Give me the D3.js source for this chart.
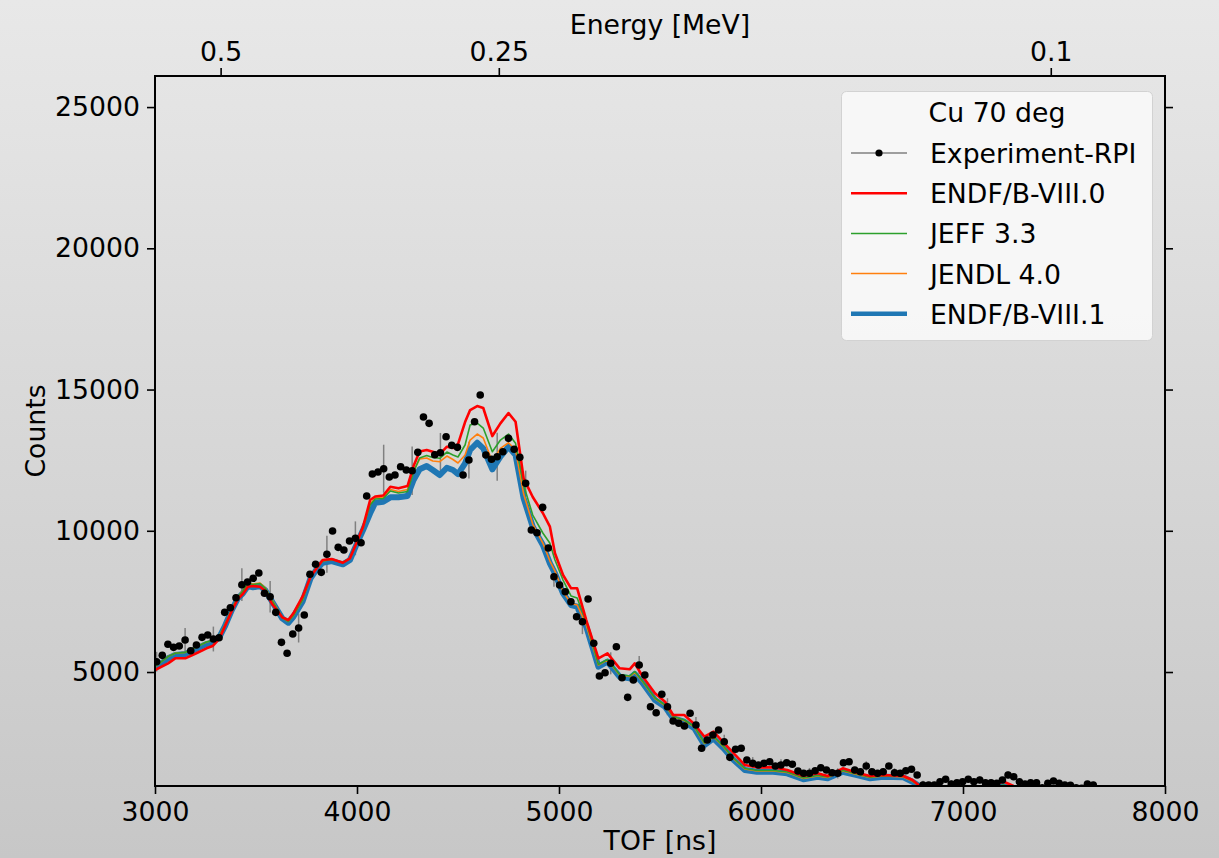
<!DOCTYPE html>
<html>
<head>
<meta charset="utf-8">
<script src="https://cdn.jsdelivr.net/npm/d3@7"></script>
<style>
  body { margin: 0; }
  svg { display: block; font-family: "DejaVu Sans", sans-serif; }
</style>
</head>
<body>
<svg width="1219" height="858"></svg>
<script>
// experiment, TOF channel centres [ns] and counts
var expTof = [3008,3036,3064,3092,3120,3149,3177,3205,3233,3261,3289,3317,3345,3373,3401,3430,3458,3486,3514,3542,
  3570,3598,3626,3654,3682,3711,3739,3767,3795,3823,3851,3879,3907,3935,3963,3992,4020,4048,4076,4104,
  4132,4160,4188,4216,4244,4273,4301,4329,4357,4385,4413,4441,4469,4497,4525,4554,4582,4610,4638,4666,
  4694,4722,4750,4778,4806,4835,4863,4891,4919,4947,4975,5003,5031,5059,5087,5116,5144,5172,5200,5228,
  5256,5284,5312,5340,5368,5397,5425,5453,5481,5509,5537,5565,5593,5621,5649,5678,5706,5734,5762,5790,
  5818,5846,5874,5902,5930,5959,5987,6015,6043,6071,6099,6127,6155,6183,6211,6240,6268,6296,6324,6352,
  6380,6408,6436,6464,6492,6521,6549,6577,6605,6633,6661,6689,6717,6745,6773,6802,6830,6858,6886,6914,
  6942,6970,6998,7026,7054,7083,7111,7139,7167,7195,7223,7251,7279,7307,7335,7364,7392,7420,7448,7476,
  7504,7532,7560,7588,7616,7645,7673,7701,7729,7757];
var expCounts = [5365,5591,5981,5874,5920,6133,5754,5956,6228,6310,6168,6214,7113,7276,7630,8090,8186,8317,8505,7786,
  7666,7113,6051,5662,6345,6558,7018,8459,8813,8529,9167,9991,9414,9319,9637,9733,9577,11230,12009,12080,
  12197,11903,11974,12268,12151,12126,12777,14027,13804,12692,12763,13330,13025,12954,11974,12505,13861,14806,12682,12530,
  12622,12799,13273,12884,12600,11680,10027,9931,10830,9390,8374,8080,7843,7489,6958,6781,7584,6016,4858,4975,
  5308,5896,4798,4104,4717,5248,4894,3772,3559,4211,3772,3265,3184,3088,3538,3124,2299,2593,2770,2947,
  2533,1980,2264,2299,1885,1768,1708,1768,1825,1672,1708,1789,1733,1495,1414,1414,1506,1612,1531,1435,
  1414,1789,1825,1531,1471,1672,1471,1414,1471,1672,1435,1414,1506,1556,1354,1000,1000,1000,1117,1202,
  1035,1081,1117,1202,1117,1177,1081,1081,1060,1177,1354,1294,1117,1035,1081,1081,900,1060,1142,1060,
  1000,990,900,880,1035,1000,850,870,820,800];
// error bars are drawn on every 5th channel
var errEvery = 5;
var expErr = [350,425,440,580,555,513,655,600,850,855,700,650,850,450,354,440,390,320,300,280,
  250,220,200,190,180,170,160,150,140,130,130,120,110,110];

// evaluated-data calculations
var tofModel = [3000,3065,3100,3150,3210,3255,3285,3320,3345,3380,3410,3435,3460,3485,3520,3545,3580,3630,3660,3685,
  3730,3770,3800,3830,3875,3930,3965,4000,4030,4065,4090,4130,4165,4205,4250,4280,4310,4345,4375,4410,
  4445,4475,4500,4535,4560,4595,4625,4670,4710,4750,4785,4825,4870,4920,4955,4980,5020,5060,5090,5135,
  5195,5240,5300,5350,5375,5415,5475,5525,5565,5620,5670,5720,5765,5815,5865,5920,5980,6060,6130,6210,
  6280,6330,6405,6475,6540,6605,6705,6750,6790,6860,6985,7135,7200,7250,7330,7680,8000];
var endf80 = [5071,5308,5485,5485,5683,5839,5920,6193,6604,7159,7584,7761,8020,8044,8020,7878,7407,6936,6841,7078,
  7666,8374,8671,8965,9000,8869,9025,9613,10144,11089,11213,11248,11560,11503,11584,12292,12806,12859,12799,12717,
  12976,12930,13071,13850,14275,14416,14346,13354,13804,14169,13861,11857,11195,10629,10144,9202,8434,7963,7963,6841,
  5485,5662,5131,5096,5308,4834,4246,3949,3478,3478,3159,2710,2887,2497,2122,1708,1626,1626,1531,1318,
  1414,1318,1591,1435,1318,1354,1318,1177,940,752,823,964,1124,964,646,292,115];
var jeff33 = [5195,5549,5662,5697,5903,6062,6115,6310,6646,7230,7655,7867,8133,8098,8133,7974,7531,6929,6788,7000,
  7549,8363,8682,8929,8983,8876,9018,9602,10098,10912,11124,11142,11407,11337,11390,12080,12576,12664,12593,12565,
  12788,12682,12611,13036,13744,13815,13638,12799,13213,13425,13096,11620,10558,9921,9556,8965,8257,7690,7620,6770,
  5266,5443,4911,4858,5018,4664,4080,3832,3425,3301,3071,2487,2717,2363,1938,1584,1513,1513,1460,1248,
  1336,1283,1513,1389,1272,1329,1301,1141,947,681,681,858,1000,858,504,150,10];
var jendl40 = [5195,5549,5662,5697,5903,6062,6115,6310,6646,7230,7655,7885,8151,8115,8151,7991,7549,6929,6788,7000,
  7549,8363,8682,8929,8983,8876,9018,9602,10098,10947,11160,11177,11461,11390,11461,12115,12540,12576,12469,12445,
  12646,12523,12399,12682,13213,13425,13284,12445,12919,13117,12859,11301,10239,9567,8929,8575,7850,7425,7372,6664,
  5248,5425,4894,4841,4982,4646,4062,3814,3407,3283,3053,2469,2699,2345,1920,1566,1495,1495,1442,1230,
  1318,1265,1495,1371,1265,1318,1283,1131,940,663,681,858,982,858,504,150,10];
var endf81 = [5142,5485,5602,5637,5839,5991,6051,6250,6604,7195,7609,7786,8044,7998,8044,7903,7489,6901,6745,6958,
  7489,8317,8636,8869,8929,8813,8965,9556,10027,10618,10993,11029,11184,11184,11230,11797,12176,12292,12151,11974,
  12232,12151,12009,12388,12859,13117,12919,12176,12622,12976,12682,11149,10144,9496,8848,8494,7786,7372,7312,6604,
  5188,5365,4834,4777,4929,4600,4009,3772,3361,3241,3007,2416,2653,2299,1885,1531,1471,1471,1414,1202,
  1294,1237,1471,1354,1237,1294,1272,1117,940,646,646,823,964,823,469,115,20];

var xTicks = [3000, 4000, 5000, 6000, 7000, 8000];
var yTicks = [5000, 10000, 15000, 20000, 25000];
var energyTicks = [0.5, 0.25, 0.1];
var energyLabels = ["0.5", "0.25", "0.1"];
var flightConst = 2351; // tof[ns] = flightConst / sqrt(E[MeV])

// thick ENDF/B-VIII.1 underneath, thin ones over it
var series = [
  {name: "ENDF/B-VIII.1", values: endf81, color: "#1f77b4", lw: 6},
  {name: "JENDL 4.0", values: jendl40, color: "#ff7f0e", lw: 1.6},
  {name: "JEFF 3.3", values: jeff33, color: "#2ca02c", lw: 1.6},
  {name: "ENDF/B-VIII.0", values: endf80, color: "#ff0000", lw: 2.6}
];

var svg = d3.select("svg"),
    width = +svg.attr("width"),
    height = +svg.attr("height"),
    margin = {top: 76, right: 54, bottom: 72, left: 155},
    w = width - margin.left - margin.right,
    h = height - margin.top - margin.bottom,
    fs = 26.7;

var grad = svg.append("defs").append("linearGradient")
    .attr("id", "bg").attr("x1", 0).attr("y1", 0).attr("x2", 0).attr("y2", 1);
grad.append("stop").attr("offset", "0%").attr("stop-color", "#e8e8e8");
grad.append("stop").attr("offset", "100%").attr("stop-color", "#c7c7c7");
svg.select("defs").append("clipPath").attr("id", "clip")
  .append("rect").attr("width", w).attr("height", h);

svg.append("rect").attr("width", width).attr("height", height).attr("fill", "url(#bg)");

var g = svg.append("g").attr("transform", "translate(" + margin.left + "," + margin.top + ")");

var x = d3.scaleLinear().domain([3000, 8000]).range([0, w]);
var y = d3.scaleLinear().domain([965, 26100]).range([h, 0]);

var plot = g.append("g").attr("clip-path", "url(#clip)");

// error bars
var errData = expErr.map(function(e, i) { return {t: expTof[i * errEvery], c: expCounts[i * errEvery], e: e}; });
plot.selectAll("line.err")
    .data(errData)
    .enter().append("line")
    .attr("class", "err")
    .attr("x1", function(d) { return x(d.t); })
    .attr("x2", function(d) { return x(d.t); })
    .attr("y1", function(d) { return y(d.c - d.e); })
    .attr("y2", function(d) { return y(d.c + d.e); })
    .attr("stroke", "#808080")
    .attr("stroke-width", 1.5);

var line = d3.line()
    .x(function(d, i) { return x(tofModel[i]); })
    .y(function(d) { return y(d); });

plot.selectAll("path.model")
    .data(series)
    .enter().append("path")
    .attr("class", "model")
    .attr("d", function(d) { return line(d.values); })
    .attr("fill", "none")
    .attr("stroke", function(d) { return d.color; })
    .attr("stroke-width", function(d) { return d.lw; })
    .attr("stroke-linejoin", "round");

plot.selectAll("circle")
    .data(expCounts)
    .enter().append("circle")
    .attr("cx", function(d, i) { return x(expTof[i]); })
    .attr("cy", function(d) { return y(d); })
    .attr("r", 3.8)
    .attr("fill", "#000");

// axes
function styleAxis(sel) {
  sel.select(".domain").remove();
  sel.selectAll(".tick line").attr("stroke", "#000").attr("stroke-width", 1.6);
  sel.selectAll(".tick text").attr("fill", "#000").style("font-size", fs + "px")
    .style("font-family", "'DejaVu Sans', sans-serif");
}

g.append("g").attr("transform", "translate(0," + h + ")")
  .call(d3.axisBottom(x).tickValues(xTicks).tickSize(8).tickPadding(8).tickFormat(d3.format("d")))
  .call(styleAxis);

g.append("g")
  .call(d3.axisLeft(y).tickValues(yTicks).tickSize(8).tickPadding(7).tickFormat(d3.format("d")))
  .call(styleAxis);

g.append("g").attr("transform", "translate(" + w + ",0)")
  .call(d3.axisRight(y).tickValues(yTicks).tickSize(8).tickFormat(""))
  .call(styleAxis);

g.append("g")
  .call(d3.axisTop(x)
    .tickValues(energyTicks.map(function(e) { return flightConst / Math.sqrt(e); }))
    .tickSize(8).tickPadding(7)
    .tickFormat(function(d, i) { return energyLabels[i]; }))
  .call(styleAxis);

g.append("rect").attr("width", w).attr("height", h)
  .attr("fill", "none").attr("stroke", "#000").attr("stroke-width", 2);

svg.append("text").attr("x", margin.left + w / 2).attr("y", 850)
  .attr("text-anchor", "middle").style("font-size", fs + "px").text("TOF [ns]");
svg.append("text").attr("x", margin.left + w / 2).attr("y", 34)
  .attr("text-anchor", "middle").style("font-size", fs + "px").text("Energy [MeV]");
svg.append("text").attr("transform", "translate(45," + (margin.top + h / 2) + ") rotate(-90)")
  .attr("text-anchor", "middle").style("font-size", fs + "px").text("Counts");

// legend
var legendItems = [
  {name: "Experiment-RPI", color: "#808080", lw: 1.5, dot: true},
  {name: "ENDF/B-VIII.0", color: "#ff0000", lw: 2.5},
  {name: "JEFF 3.3", color: "#2ca02c", lw: 1.5},
  {name: "JENDL 4.0", color: "#ff7f0e", lw: 1.5},
  {name: "ENDF/B-VIII.1", color: "#1f77b4", lw: 4.5}
];

var leg = svg.append("g").attr("transform", "translate(841,91)");
leg.append("rect").attr("x", 0.5).attr("y", 0.5).attr("width", 311).attr("height", 249)
  .attr("rx", 5).attr("fill", "#f9f9f9").attr("fill-opacity", 0.92)
  .attr("stroke", "#d2d2d2").attr("stroke-width", 1);
leg.append("text").attr("x", 156).attr("y", 31).attr("text-anchor", "middle")
  .style("font-size", fs + "px").text("Cu 70 deg");

var row = leg.selectAll("g.row")
    .data(legendItems)
    .enter().append("g")
    .attr("class", "row")
    .attr("transform", function(d, i) { return "translate(0," + (62 + i * 40.2) + ")"; });
row.append("line").attr("x1", 10).attr("x2", 66)
  .attr("stroke", function(d) { return d.color; })
  .attr("stroke-width", function(d) { return d.lw; });
row.filter(function(d) { return d.dot; }).append("circle")
  .attr("cx", 38).attr("r", 3.6).attr("fill", "#000");
row.append("text").attr("x", 89).attr("y", 10)
  .style("font-size", fs + "px").text(function(d) { return d.name; });
</script>
</body>
</html>
